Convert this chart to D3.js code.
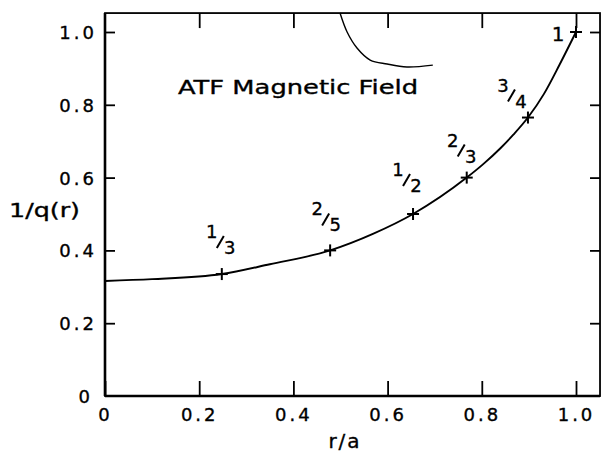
<!DOCTYPE html>
<html>
<head>
<meta charset="utf-8">
<script src="https://cdn.jsdelivr.net/npm/d3@7"></script>
<style>
  html, body { margin: 0; padding: 0; background: #fff; }
  svg { display: block; }
  text { font-family: "DejaVu Sans", sans-serif; fill: #000; stroke: #000; stroke-width: 0.35; }
</style>
</head>
<body>
<svg id="chart" width="602" height="454"></svg>
<script>
// Rotational transform profile 1/q(r) of the ATF magnetic field
const xTicks = [0, 0.2, 0.4, 0.6, 0.8, 1.0];
const yTicks = [0, 0.2, 0.4, 0.6, 0.8, 1.0];
const xTickLabels = ["0", "0.2", "0.4", "0.6", "0.8", "1.0"];
const yTickLabels = ["0", "0.2", "0.4", "0.6", "0.8", "1.0"];

// smooth profile r/a -> 1/q
const profileR = [0, 0.1, 0.248, 0.35, 0.478, 0.57, 0.654, 0.768, 0.803, 0.839, 0.867, 0.898, 0.932, 0.965, 1.0];
const profileQ = [0.316, 0.321, 0.335, 0.362, 0.40, 0.446, 0.50, 0.60, 0.637, 0.68, 0.718, 0.765, 0.83, 0.91, 1.0];

// rational surfaces marked on the profile
const surfaceNum = ["1", "2", "1", "2", "3", "1"];
const surfaceDen = ["3", "5", "2", "3", "4", ""];
const surfaceR = [0.248, 0.478, 0.654, 0.768, 0.898, 1.0];
const surfaceQ = [0.335, 0.40, 0.50, 0.60, 0.765, 1.0];

// stray arc near the top of the frame
const arcR = [0.499, 0.514, 0.535, 0.563, 0.599, 0.641, 0.696];
const arcQ = [1.052, 1.0, 0.956, 0.923, 0.912, 0.904, 0.909];

const svg = d3.select("#chart");
const x = d3.scaleLinear().domain([0, 1]).range([105, 576]);
const y = d3.scaleLinear().domain([0, 1]).range([396, 32]);
const xMax = 1.051, yMax = 1.052;

const frameL = x(0), frameR = x(xMax), frameT = y(yMax), frameB = y(0);

// frame
svg.append("rect")
  .attr("x", frameL).attr("y", frameT).attr("width", frameR - frameL).attr("height", frameB - frameT)
  .attr("fill", "none").attr("stroke", "#000").attr("stroke-width", 1.8);
svg.append("line").attr("x1", frameL).attr("x2", frameL).attr("y1", frameT).attr("y2", frameB)
  .attr("stroke", "#000").attr("stroke-width", 2.6);
svg.append("line").attr("x1", frameL).attr("x2", frameR).attr("y1", frameB).attr("y2", frameB)
  .attr("stroke", "#000").attr("stroke-width", 2.4);

// bottom axis: inward ticks
const axBottom = svg.append("g").attr("transform", `translate(0,${frameB})`)
  .call(d3.axisBottom(x).tickValues(xTicks).tickSizeInner(-15).tickSizeOuter(0)
    .tickPadding(0).tickFormat((d, i) => xTickLabels[i]));
axBottom.select(".domain").remove();
axBottom.selectAll(".tick line").attr("stroke-width", 1.8);
axBottom.selectAll(".tick text").attr("font-size", 18).attr("y", 25)
  .attr("dy", 0).attr("letter-spacing", 3).attr("dx", 0);

// top ticks
const axTop = svg.append("g").attr("transform", `translate(0,${frameT})`)
  .call(d3.axisTop(x).tickValues(xTicks.slice(1)).tickSizeInner(-15).tickSizeOuter(0).tickFormat(""));
axTop.select(".domain").remove();
axTop.selectAll(".tick line").attr("stroke-width", 1.8);

// left axis: inward ticks
const axLeft = svg.append("g").attr("transform", `translate(${frameL},0)`)
  .call(d3.axisLeft(y).tickValues(yTicks).tickSizeInner(-10).tickSizeOuter(0)
    .tickPadding(0).tickFormat((d, i) => yTickLabels[i]));
axLeft.select(".domain").remove();
axLeft.selectAll(".tick line").attr("stroke-width", 1.8);
axLeft.selectAll(".tick text").attr("font-size", 18).attr("x", -8)
  .attr("dy", "0.36em").attr("letter-spacing", 3).attr("text-anchor", "end");
axLeft.selectAll(".tick").filter(d => d === 0).select("line").remove();
axLeft.selectAll(".tick").filter(d => d === 0).select("text").attr("x", -12);

// right ticks
const axRight = svg.append("g").attr("transform", `translate(${frameR},0)`)
  .call(d3.axisRight(y).tickValues(yTicks.slice(1)).tickSizeInner(-10).tickSizeOuter(0).tickFormat(""));
axRight.select(".domain").remove();
axRight.selectAll(".tick line").attr("stroke-width", 1.8);

// axis titles
svg.append("text").attr("x", 345).attr("y", 448).attr("text-anchor", "middle")
  .attr("font-size", 20).attr("letter-spacing", 2).text("r/a");
svg.append("text").attr("x", 9).attr("y", 217).attr("font-size", 20)
  .attr("textLength", 71).attr("lengthAdjust", "spacingAndGlyphs").text("1/q(r)");

// chart title inside the frame
svg.append("text").attr("x", 178).attr("y", 94).attr("font-size", 19)
  .attr("textLength", 240).attr("lengthAdjust", "spacingAndGlyphs").text("ATF Magnetic Field");

// profile curve
const line = d3.line().x(d => x(d[0])).y(d => y(d[1])).curve(d3.curveMonotoneX);
svg.append("path").datum(d3.zip(profileR, profileQ))
  .attr("d", line).attr("fill", "none").attr("stroke", "#000").attr("stroke-width", 1.9);

// stray arc
const arcLine = d3.line().x(d => x(d[0])).y(d => y(d[1])).curve(d3.curveCatmullRom.alpha(0.5));
svg.append("path").datum(d3.zip(arcR, arcQ))
  .attr("d", arcLine).attr("fill", "none").attr("stroke", "#000").attr("stroke-width", 1.4);

// surface markers
const marks = svg.append("g");
surfaceR.forEach((r, i) => {
  const cx = x(r), cy = y(surfaceQ[i]);
  marks.append("line").attr("x1", cx - 6).attr("x2", cx + 6).attr("y1", cy).attr("y2", cy)
    .attr("stroke", "#000").attr("stroke-width", 2);
  marks.append("line").attr("x1", cx).attr("x2", cx).attr("y1", cy - 6).attr("y2", cy + 6)
    .attr("stroke", "#000").attr("stroke-width", 2);
});

// fraction labels: raised numerator, slash, lowered denominator
const labelOffsets = [[-1, -35], [-4, -34], [-6, -37], [-5, -30], [-16, -25], [-18, 1]];
surfaceR.forEach((r, i) => {
  const cx = x(r) + labelOffsets[i][0], cy = y(surfaceQ[i]) + labelOffsets[i][1];
  const g = svg.append("g").attr("transform", `translate(${cx},${cy})`);
  if (surfaceDen[i] === "") {
    g.append("text").attr("x", 0).attr("y", 8).attr("font-size", 20)
      .attr("text-anchor", "middle").text(surfaceNum[i]);
    return;
  }
  g.append("text").attr("x", -9).attr("y", -1).attr("font-size", 18)
    .attr("text-anchor", "middle").text(surfaceNum[i]);
  g.append("line").attr("x1", -4).attr("y1", 9).attr("x2", 3).attr("y2", -3)
    .attr("stroke", "#000").attr("stroke-width", 2);
  g.append("text").attr("x", 9).attr("y", 15).attr("font-size", 18)
    .attr("text-anchor", "middle").text(surfaceDen[i]);
});
</script>
</body>
</html>
